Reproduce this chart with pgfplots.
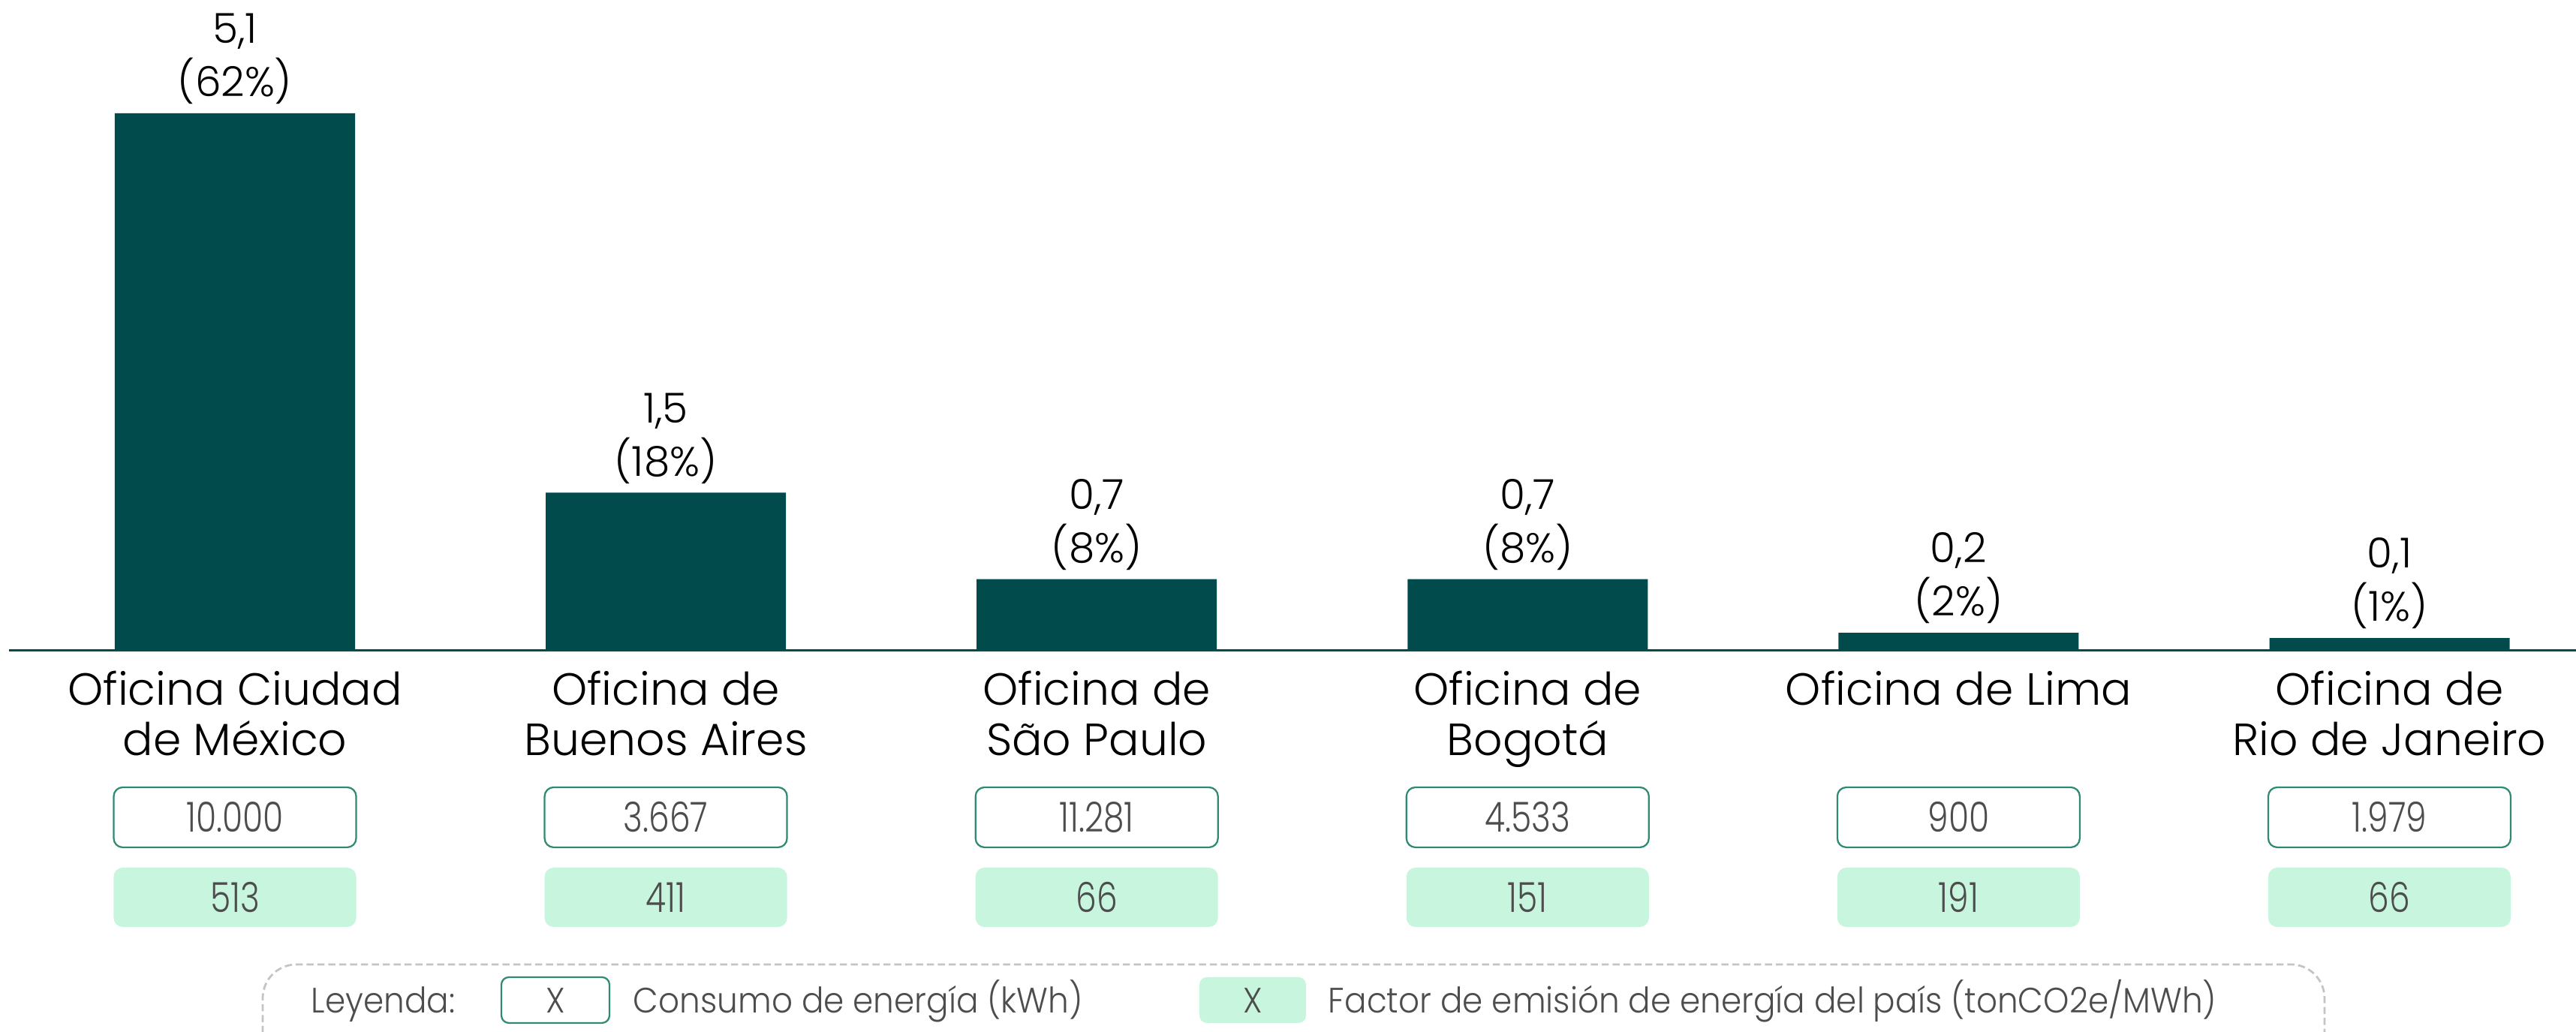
\documentclass[border=0pt]{standalone}
\usepackage{fontspec}
\setmainfont{Poppins}[UprightFont=* Light]
\newfontfamily\narrowfont{Poppins}[UprightFont=* Light, FakeStretch=0.8]
\newfontfamily\legendfont{Poppins}[UprightFont=* Light, FakeStretch=0.93]
\usepackage{pgfplots}
\pgfplotsset{compat=1.18}

\definecolor{barTeal}{RGB}{2,75,77}
\definecolor{boxGreen}{RGB}{46,138,114}
\definecolor{boxMint}{RGB}{199,245,221}
\definecolor{txtGray}{RGB}{77,77,77}
\definecolor{dashGray}{RGB}{196,196,196}

\begin{document}
\begin{tikzpicture}
\begin{axis}[
  scale only axis,
  width=684pt, height=275pt,
  xmin=-0.5243, xmax=5.4329,
  ymin=-3.618, ymax=6.175,
  clip=false,
  axis x line=middle,
  axis y line=none,
  x axis line style={draw=barTeal, line width=0.6pt, -},
  xtick={0,1,2,3,4,5},
  xticklabels={{Oficina Ciudad\\de México},{Oficina de\\Buenos Aires},
    {Oficina de\\São Paulo},{Oficina de\\Bogotá},{Oficina de Lima},
    {Oficina de\\Rio de Janeiro}},
  xtick style={draw=none},
  xticklabel style={anchor=north, align=center, inner sep=0pt, yshift=-3.1pt,
    font=\fontsize{12}{13.4}\selectfont, text=black},
  ytick=\empty,
]
%% emisiones (tCO2e) por oficina
\addplot[ybar, bar width=64pt, fill=barTeal, draw=none,
  nodes near coords, point meta=explicit symbolic,
  every node near coord/.append style={anchor=south, align=center,
    inner sep=0pt, yshift=2.2pt, text=black,
    font=\fontsize{11}{14.2}\selectfont}]
  coordinates {(0,5.1)[5,1\\(62\%)] (1,1.5)[1,5\\(18\%)] (2,0.68)[0,7\\(8\%)]
               (3,0.68)[0,7\\(8\%)] (4,0.17)[0,2\\(2\%)] (5,0.12)[0,1\\(1\%)]};
%% consumo de energía (kWh)
\addplot[draw=none, mark=none, nodes near coords, point meta=explicit symbolic,
  nodes near coords align={center},
  every node near coord/.append style={anchor=center, draw=boxGreen,
    line width=0.45pt, rounded corners=2.4pt, fill=white,
    minimum width=64.6pt, minimum height=16pt, inner sep=0pt, text=txtGray,
    font=\narrowfont\fontsize{11}{13}\selectfont}]
  coordinates {(0,-1.581)[10.000] (1,-1.581)[3.667] (2,-1.581)[11.281]
               (3,-1.581)[4.533] (4,-1.581)[900] (5,-1.581)[1.979]};
%% factor de emisión (tonCO2e/MWh)
\addplot[draw=none, mark=none, nodes near coords, point meta=explicit symbolic,
  nodes near coords align={center},
  every node near coord/.append style={anchor=center, draw=none,
    rounded corners=2.4pt, fill=boxMint,
    minimum width=64.6pt, minimum height=15.8pt, inner sep=0pt, text=txtGray,
    font=\narrowfont\fontsize{11}{13}\selectfont}]
  coordinates {(0,-2.34)[513] (1,-2.34)[411] (2,-2.34)[66]
               (3,-2.34)[151] (4,-2.34)[191] (5,-2.34)[66]};
\end{axis}
% legend, in pixel units of the reference
\begin{scope}[shift={(-2.4pt,275pt)}, x=0.2pt, y=-0.2pt,
  every node/.style={text=txtGray, font=\legendfont\fontsize{9.4}{11}\selectfont}]
  \draw[dashGray, line width=0.55pt, dash pattern=on 1.9pt off 1pt,
    rounded corners=9pt] (350,1420) -- (350,1285) -- (3097,1285) -- (3097,1420);
  \node[anchor=base west, inner sep=0pt] at (414,1350) {Leyenda:};
  \draw[boxGreen, line width=0.45pt, rounded corners=2pt] (668,1302) rectangle (812,1363);
  \node at (740,1333) {X};
  \node[anchor=base west, inner sep=0pt] at (843,1350) {Consumo de energía (kWh)};
  \fill[boxMint, rounded corners=2pt] (1598,1302) rectangle (1740,1363);
  \node at (1669,1333) {X};
  \node[anchor=base west, inner sep=0pt] at (1769,1350)
    {Factor de emisión de energía del país (tonCO2e/MWh)};
\end{scope}
\pgfresetboundingbox
\path (-2.4pt,0pt) rectangle (684pt,275pt);
\end{tikzpicture}
\end{document}
